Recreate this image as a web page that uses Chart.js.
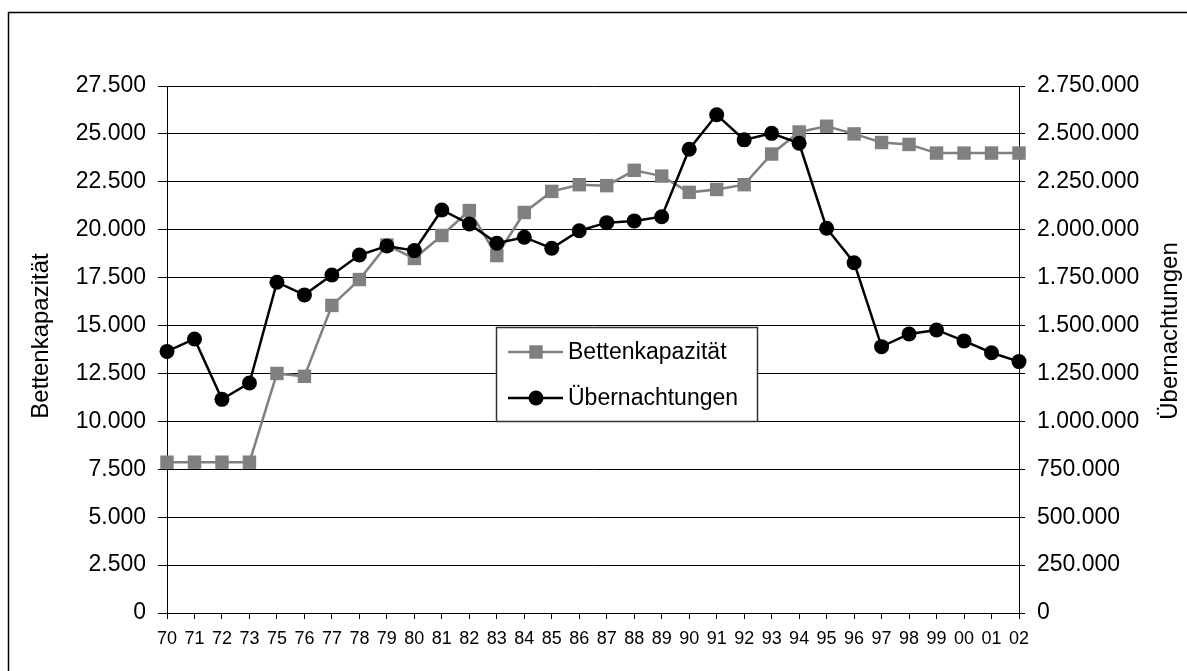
<!DOCTYPE html>
<html lang="de">
<head>
<meta charset="UTF-8">
<title>Bettenkapazität und Übernachtungen</title>
<script src="https://cdn.jsdelivr.net/npm/chart.js"></script>
<style>
  body { margin: 0; background: #fff; }
  #box { width: 1187px; height: 671px; }
</style>
</head>
<body>
<div id="box"><canvas id="grafico" width="1187" height="671"></canvas></div>
<script>
  const jahre = ["70","71","72","73","75","76","77","78","79","80","81","82","83","84","85","86",
                 "87","88","89","90","91","92","93","94","95","96","97","98","99","00","01","02"];
  const betten = [7870, 7870, 7870, 7870, 12500, 12350, 16050, 17400, 19200, 18500, 19700, 21000,
                  18650, 20900, 22000, 22350, 22300, 23100, 22800, 21950, 22100, 22350, 23950, 25100,
                  25400, 25000, 24550, 24450, 24000, 24000, 24000, 24000];
  const naechte = [1365000, 1430000, 1115000, 1200000, 1726000, 1660000, 1764000, 1868000, 1915000,
                   1891000, 2103000, 2030000, 1930000, 1961000, 1903000, 1995000, 2037000, 2046000,
                   2068000, 2420000, 2600000, 2469000, 2503000, 2451000, 2008000, 1828000, 1390000,
                   1456000, 1477000, 1420000, 1358000, 1312000];

  const schrift = "Arial, 'Liberation Sans', sans-serif";
  const fmt = v => String(v).replace(/\B(?=(\d{3})+(?!\d))/g, ".");

  // Rahmen, Achsentitel und Legende im Diagramm
  const extras = {
    id: "extras",
    beforeDraw(chart) {
      const ctx = chart.ctx;
      ctx.save();
      ctx.fillStyle = "#fff";
      ctx.fillRect(0, 0, chart.width, chart.height);
      ctx.strokeStyle = "#000";
      ctx.lineWidth = 1.5;
      ctx.strokeRect(8.5, 12.5, 1300, 1000);
      ctx.restore();
    },
    afterDraw(chart) {
      const ctx = chart.ctx;
      ctx.save();
      ctx.fillStyle = "#000";
      ctx.font = "24px " + schrift;
      ctx.textAlign = "center";
      ctx.textBaseline = "middle";
      [[41, 336, "Bettenkapazität"], [1170, 331, "Übernachtungen"]].forEach(([x, y, t]) => {
        ctx.save();
        ctx.translate(x, y);
        ctx.rotate(-Math.PI / 2);
        ctx.fillText(t, 0, 0);
        ctx.restore();
      });

      // legende
      ctx.fillStyle = "#fff";
      ctx.fillRect(496, 327, 261, 94);
      ctx.strokeStyle = "#333";
      ctx.lineWidth = 1.5;
      ctx.strokeRect(496.5, 327.5, 261, 94);
      ctx.textAlign = "left";
      ctx.font = "23px " + schrift;
      chart.data.datasets.forEach((ds, i) => {
        const y = 352 + i * 46;
        ctx.strokeStyle = ds.borderColor;
        ctx.lineWidth = ds.borderWidth;
        ctx.beginPath();
        ctx.moveTo(508, y);
        ctx.lineTo(563, y);
        ctx.stroke();
        ctx.fillStyle = ds.pointBackgroundColor;
        ctx.strokeStyle = ds.pointBorderColor;
        Chart.helpers.drawPoint(ctx, { pointStyle: ds.pointStyle, radius: ds.pointRadius, borderWidth: 0, rotation: 0 }, 536, y);
        ctx.fillStyle = "#000";
        ctx.fillText(ds.label, 568, y + 1);
      });
      ctx.restore();
    }
  };

  new Chart(document.getElementById("grafico"), {
    type: "line",
    data: {
      labels: jahre,
      datasets: [{
        label: "Bettenkapazität",
        data: betten,
        yAxisID: "y",
        borderColor: "#808080",
        borderWidth: 2.5,
        pointStyle: "rect",
        pointRadius: 9.5,
        pointBackgroundColor: "#808080",
        pointBorderColor: "#808080",
        pointBorderWidth: 0,
        tension: 0,
        clip: false,
        order: 2
      }, {
        label: "Übernachtungen",
        data: naechte,
        yAxisID: "y1",
        borderColor: "#000",
        borderWidth: 2.5,
        pointStyle: "circle",
        pointRadius: 7.5,
        pointBackgroundColor: "#000",
        pointBorderColor: "#000",
        pointBorderWidth: 0,
        tension: 0,
        clip: false,
        order: 1
      }]
    },
    options: {
      responsive: false,
      animation: false,
      layout: { padding: { top: 86, left: 0, right: 0, bottom: 0 } },
      plugins: { legend: { display: false }, tooltip: { enabled: false } },
      scales: {
        x: {
          type: "category",
          offset: false,
          afterFit: s => { s.height = 58; },
          grid: { drawOnChartArea: false, drawTicks: true, tickLength: 6, color: "#000" },
          border: { color: "#000", width: 1 },
          ticks: { font: { size: 18, family: schrift }, color: "#000", maxRotation: 0, autoSkip: false, padding: 9 }
        },
        y: {
          position: "left",
          min: 0,
          max: 27500,
          afterFit: s => { s.width = 167; },
          grid: { color: "#000", lineWidth: 1, tickLength: 9 },
          border: { color: "#000", width: 1 },
          ticks: { stepSize: 2500, callback: v => fmt(v), font: { size: 23, family: schrift }, color: "#000", padding: 12 }
        },
        y1: {
          position: "right",
          min: 0,
          max: 2750000,
          afterFit: s => { s.width = 168; },
          grid: { drawOnChartArea: false, color: "#000", tickLength: 6 },
          border: { color: "#000", width: 1 },
          ticks: { stepSize: 250000, callback: v => fmt(v), font: { size: 23, family: schrift }, color: "#000", padding: 12 }
        }
      }
    },
    plugins: [extras]
  });
</script>
</body>
</html>
